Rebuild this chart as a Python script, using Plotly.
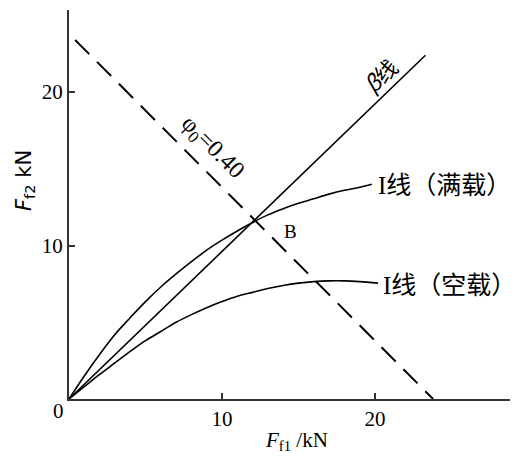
import plotly.graph_objects as go

# ---------- DATA ----------
# beta line: straight line through origin
beta_x = [0, 23.3]
beta_y = [0, 22.4]

# I curve, full load
i_vol_x = [0, 1, 2, 3, 4, 5, 6, 7, 8, 9, 10, 11, 12, 13, 14, 15, 16, 17, 18, 19, 19.8]
i_vol_y = [0, 1.5, 2.9, 4.2, 5.3, 6.35, 7.3, 8.15, 8.95, 9.7, 10.35, 10.95, 11.5,
           12.0, 12.4, 12.75, 13.05, 13.35, 13.6, 13.8, 14.0]

# I curve, empty
i_leeg_x = [0, 1, 2, 3, 4, 5, 6, 7, 8, 9, 10, 11, 12, 13, 14, 15, 16, 17, 18, 19, 20.2]
i_leeg_y = [0, 0.8, 1.6, 2.35, 3.1, 3.8, 4.4, 5.0, 5.5, 5.95, 6.35, 6.7, 6.95,
            7.2, 7.4, 7.55, 7.65, 7.7, 7.7, 7.65, 7.55]

# phi0 = 0.40 dashed line
phi_x = [0.4, 23.8]
phi_y = [23.4, 0]

x_ticks = [10, 20]
y_ticks = [10, 20]

serif = "Liberation Serif"
cjk = "Noto Sans CJK SC"
roman_i = "<span style='font-family:Liberation Serif'>I</span>"

# ---------- PLOT ----------
fig = go.Figure()

for xs, ys in [(beta_x, beta_y), (i_vol_x, i_vol_y), (i_leeg_x, i_leeg_y)]:
    fig.add_trace(go.Scatter(
        x=xs, y=ys, mode="lines",
        line=dict(color="black", width=1.6, shape="spline", smoothing=1),
        showlegend=False,
    ))

fig.add_trace(go.Scatter(
    x=phi_x, y=phi_y, mode="lines",
    line=dict(color="black", width=2, dash="20px,11px"),
    showlegend=False,
))

# labels in data-coordinaten
annotaties = [
    dict(x=20.1, y=14.1, text=roman_i + "线（满载）", xanchor="left", font=dict(family=cjk, size=25)),
    dict(x=20.4, y=7.55, text=roman_i + "线（空载）", xanchor="left", font=dict(family=cjk, size=25)),
    dict(x=20.3, y=21.1, text="<i>β</i>线", textangle=-44, font=dict(family=cjk, size=22)),
    dict(x=9.35, y=16.35, text="φ<sub>0</sub>=0.40", textangle=45, font=dict(family=serif, size=24)),
    dict(x=14.45, y=10.9, text="B", font=dict(family=serif, size=19)),
    dict(x=0, y=0, text="0", xshift=-11, yshift=-12, font=dict(family=serif, size=21)),
]
for a in annotaties:
    fig.add_annotation(xref="x", yref="y", showarrow=False, font_color="black", **a)

# astitels in paper-coordinaten (buiten het plotvlak)
fig.add_annotation(xref="paper", yref="paper", x=0.506, y=-0.107, xanchor="center", yanchor="middle",
                   showarrow=False, text="<i>F</i><sub>f1</sub> /kN",
                   font=dict(family=serif, size=21, color="black"))
fig.add_annotation(xref="paper", yref="paper", x=-0.098, y=0.563, xanchor="center", yanchor="middle",
                   showarrow=False, textangle=-90, text="<i>F</i><sub>f2</sub> kN",
                   font=dict(family="DejaVu Sans", size=21, color="black"))

as_stijl = dict(
    showgrid=False, zeroline=False,
    showline=True, linecolor="#333", linewidth=2,
    ticks="inside", ticklen=6, tickwidth=1.5, tickcolor="#333",
    tickfont=dict(family=serif, size=21, color="black"),
)

fig.update_xaxes(range=[0, 29.35], tickvals=x_ticks, **as_stijl)
fig.update_yaxes(range=[0, 25.35], tickvals=y_ticks, **as_stijl)

# pagina heeft 8px body-marge, daarom iets kleiner
fig.update_layout(
    width=510, height=449,
    margin=dict(l=61, r=0, t=2, b=58),
    plot_bgcolor="white", paper_bgcolor="white",
)

fig.write_html("out.html")
